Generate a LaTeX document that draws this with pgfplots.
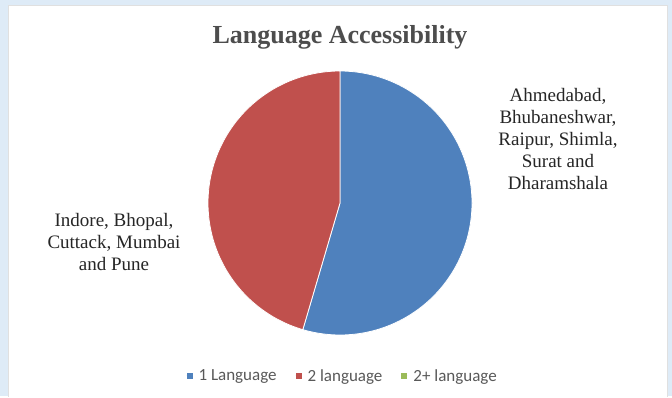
\documentclass[border=0pt]{standalone}
\usepackage{pgfplots}
\pgfplotsset{compat=1.18}
\usepackage{pgfplotstable}
\usepackage{fontspec}
\setmainfont{Liberation Serif}
\newfontfamily\carlito{Carlito}
\definecolor{pieblue}{HTML}{4F81BD}
\definecolor{piered}{HTML}{C0504D}
\definecolor{piegreen}{HTML}{9BBB59}
\definecolor{framebg}{HTML}{DEEBF7}
\definecolor{titlegray}{HTML}{4D4D4D}
\definecolor{legendgray}{HTML}{595959}

\pgfplotstableread{
id value
1 6
2 5
3 0
}\pietable

\pgfplotstablegetelem{0}{value}\of\pietable \let\vA\pgfplotsretval
\pgfplotstablegetelem{1}{value}\of\pietable \let\vB\pgfplotsretval
\pgfplotstablegetelem{2}{value}\of\pietable \let\vC\pgfplotsretval
\pgfmathsetmacro{\vTot}{\vA+\vB+\vC}
\pgfmathsetmacro{\aA}{90-360*\vA/\vTot}
\pgfmathsetmacro{\aB}{\aA-360*\vB/\vTot}

\begin{document}
\begin{tikzpicture}[x=1bp,y=1bp]
\fill[framebg] (0,0) rectangle (672,396);
\fill[white] (8,0) rectangle (667,391);
\draw[black!12, line width=0.6bp] (8,-1) -- (8,391) -- (667,391) -- (667,-1);

\begin{axis}[
  x=132bp, y=132bp,
  xmin=-1, xmax=1, ymin=-1, ymax=1,
  hide axis,
  clip=false,
  anchor=center, at={(340bp,193bp)},
  legend columns=3,
  legend style={at={(0.51,-0.155)}, anchor=center, draw=none, fill=none,
    font=\carlito\fontsize{17bp}{19bp}\selectfont, text=legendgray,
    /tikz/every even column/.append style={column sep=17bp},
    inner sep=0pt},
  legend image code/.code={\fill[#1] (0bp,-3bp) rectangle (6bp,3bp); \path (0bp,0bp) -- (6bp,0bp);},
]
\addplot[forget plot, fill=pieblue, draw=white, line width=0.8bp, domain={\aA}:90, samples=160, variable=\t]
  ({cos(\t)},{sin(\t)}) -- (axis cs:0,0) -- cycle;
\addplot[forget plot, fill=piered, draw=white, line width=0.8bp, domain={\aB}:{\aA}, samples=160, variable=\t]
  ({cos(\t)},{sin(\t)}) -- (axis cs:0,0) -- cycle;
\addlegendimage{draw=none, fill=pieblue}
\addlegendentry{\hspace{4bp}1 Language}
\addlegendimage{draw=none, fill=piered}
\addlegendentry{\hspace{4bp}2 language}
\addlegendimage{draw=none, fill=piegreen}
\addlegendentry{\hspace{4bp}2+ language}
\end{axis}

\node[anchor=base, text=titlegray, font=\bfseries\fontsize{26bp}{30bp}\selectfont] at (340,353) {Language Accessibility};
\node[align=center, inner sep=0pt, text=black!85, font=\fontsize{19bp}{22bp}\selectfont] at (558,257)
  {Ahmedabad,\\Bhubaneshwar,\\Raipur, Shimla,\\Surat and\\Dharamshala};
\node[align=center, inner sep=0pt, text=black!85, font=\fontsize{19bp}{22bp}\selectfont] at (114,154)
  {Indore, Bhopal,\\Cuttack, Mumbai\\and Pune};
\end{tikzpicture}
\end{document}
